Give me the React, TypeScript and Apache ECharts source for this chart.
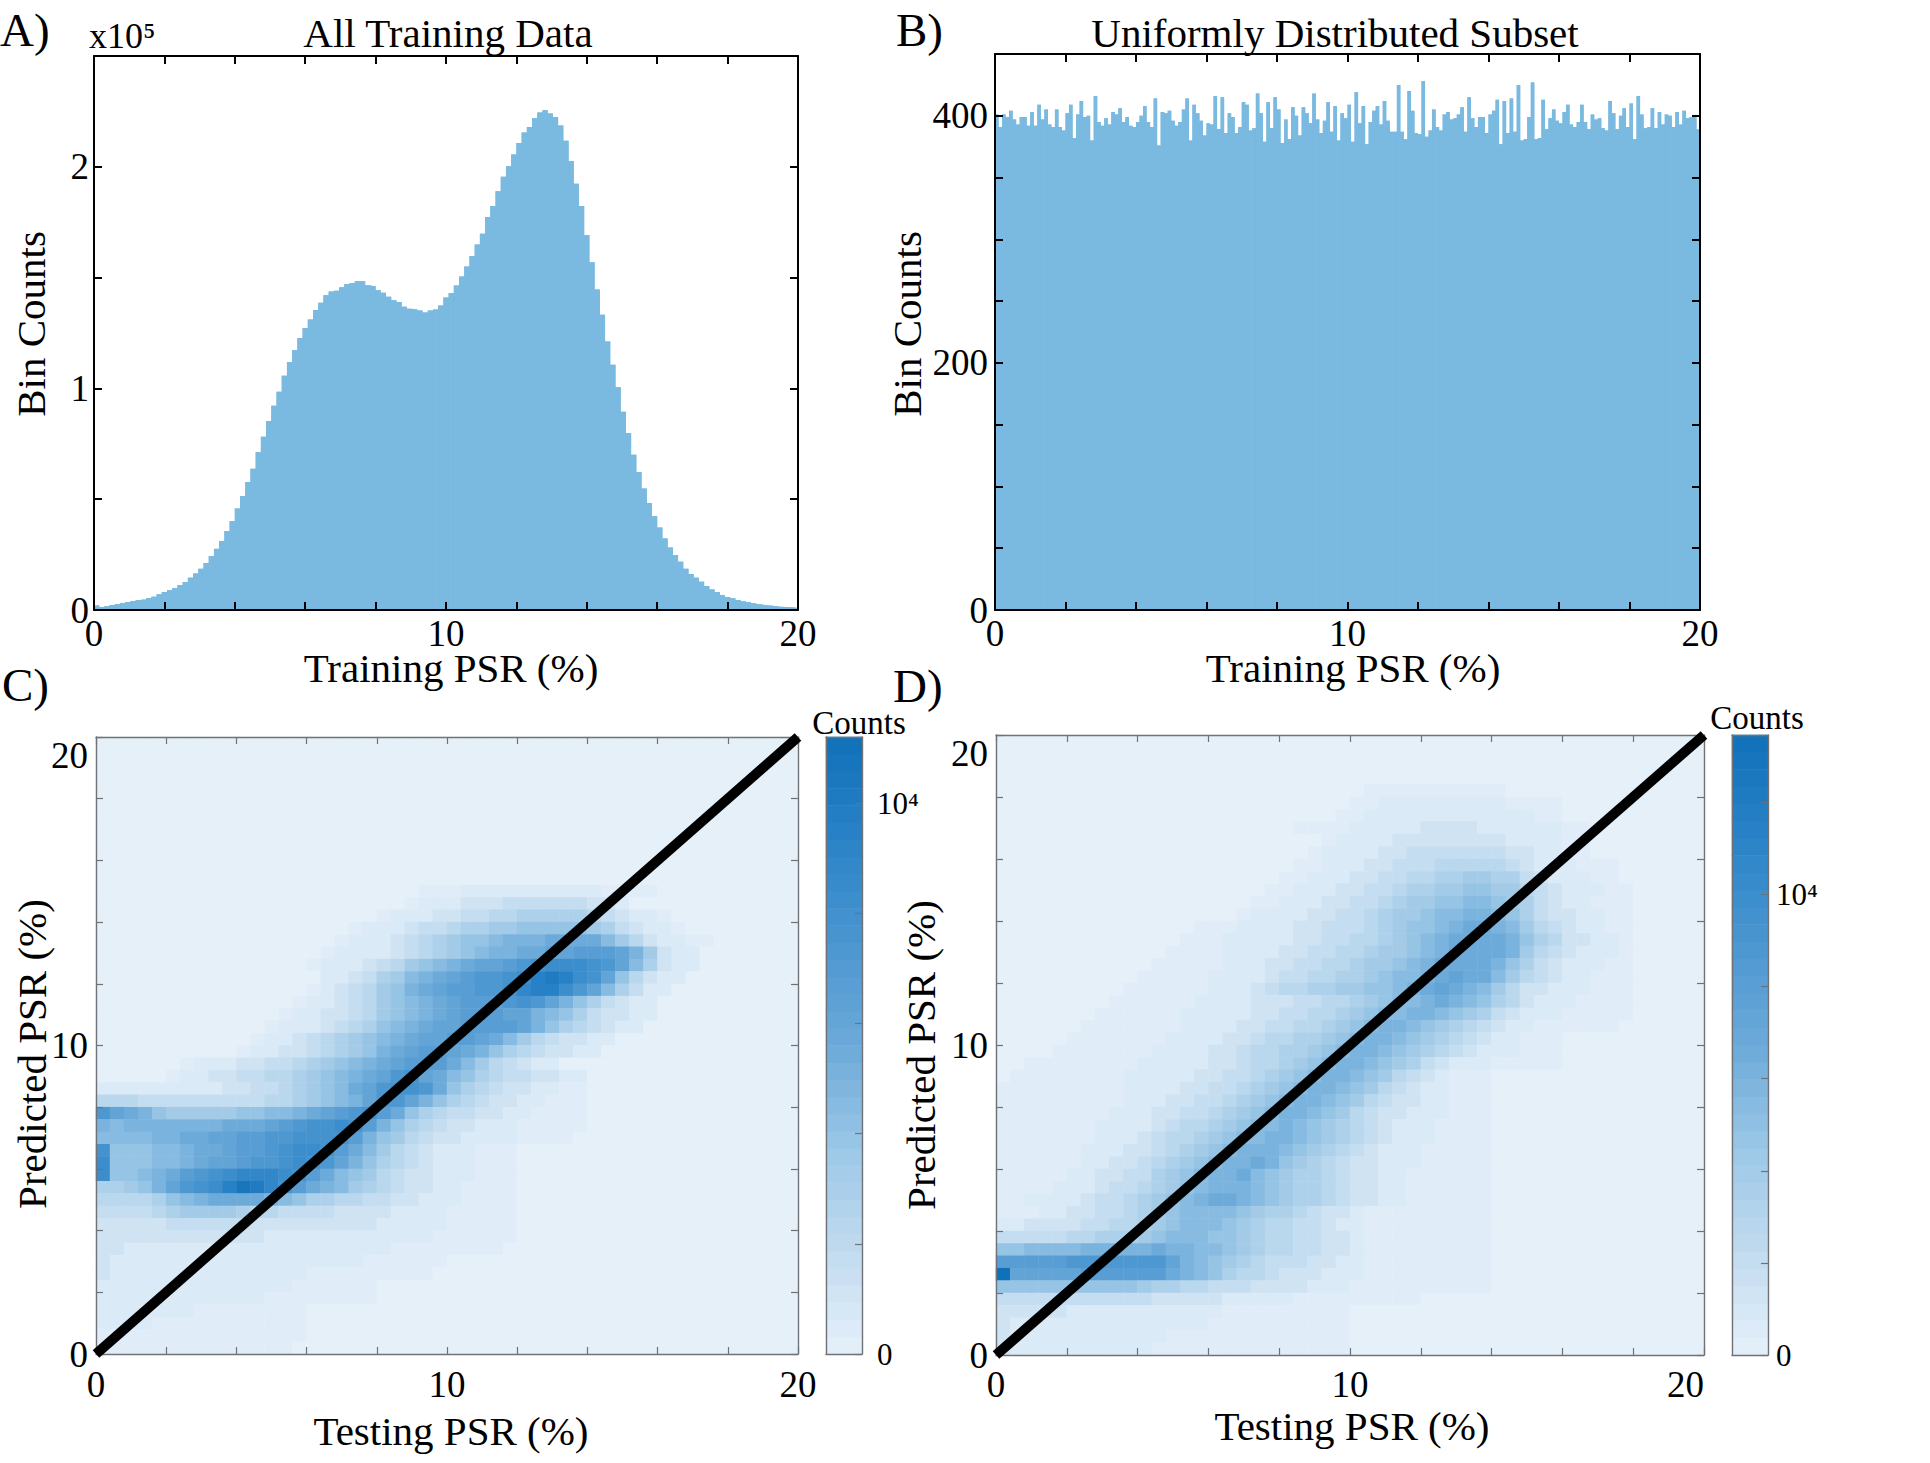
import React, { useEffect, useRef } from "react";
import * as echarts from "echarts";

// Panel A: bin counts in thousands, 135 bins over 0-20 %
const allTrainingCounts = [
  2.1,1.4,1.8,2.3,2.7,3.2,3.6,4.1,4.5,4.7,5.4,6.0,7.1,8.1,9.0,9.9,11.3,12.6,14.6,16.5,18.6,21.2,24.3,27.6,31.1,35.6,40.1,45.8,51.4,57.8,
  63.7,71.2,78.2,85.3,92.2,98.5,105.7,111.9,117.3,122.8,127.3,131.1,135.4,138.7,142.0,143.7,144.1,145.6,147.1,147.6,148.4,148.4,146.5,146.2,144.3,143.2,141.4,139.8,139.0,136.8,
  135.9,135.7,135.1,134.2,135.1,135.6,137.4,141.0,143.1,146.4,150.5,155.0,159.8,164.9,169.8,177.3,182.3,189.0,195.5,200.3,205.6,210.7,215.5,218.0,221.9,224.5,225.5,224.0,222.5,218.6,
  211.7,202.6,192.3,182.3,169.2,156.9,144.6,133.2,121.2,110.7,100.5,89.5,79.9,70.1,62.3,54.8,48.3,42.3,37.2,32.3,28.2,24.8,21.8,18.6,16.2,14.6,12.8,10.8,9.3,8.1,
  6.8,5.9,5.3,4.5,3.9,3.5,3.0,2.6,2.3,2.0,1.8,1.5,1.4,1.2,1.1,
];

// Panel B: 200 bins over 0-20 %
const uniformCounts = [
  401,391,401,399,404,397,393,399,399,392,403,392,409,397,405,393,391,405,391,388,402,409,382,401,412,399,400,380,416,395,392,398,393,403,401,406,395,399,392,391,395,400,408,395,391,414,376,403,402,404,396,392,395,405,414,380,409,402,396,384,394,393,416,389,415,386,402,
  399,386,391,411,409,388,390,418,402,379,411,390,415,405,378,397,381,407,400,384,407,402,394,418,397,386,396,411,387,408,380,402,398,409,379,419,394,408,377,395,404,408,393,412,396,387,387,425,387,381,420,404,386,385,428,383,388,405,391,388,401,403,397,398,401,407,387,415,
  398,391,399,399,386,401,404,413,377,412,386,414,387,425,380,381,399,427,381,382,413,389,398,405,396,394,403,409,393,391,395,409,395,389,401,397,398,390,388,412,402,389,400,406,391,410,381,416,401,390,391,406,390,403,393,401,400,391,403,393,404,398,399,399,389,
];

// Panel C: density levels (0-9, a-k = 0..20 of the colour scale, "." = half a level), 50x50 cells, top row first
const panelCRows = [
  "0","0","0","0","0","0","0","0","0","0","0","0",
  "00000 00000 00000 00000 000.. .1111 11111 1....",
  "00000 00000 00000 00000 00.11 12223 33333 22100",
  "00000 00000 00000 00000 .1112 23344 55555 43211 .0000",
  "00000 00000 00000 000.1 11233 45566 77777 65321 1.000",
  "00000 00000 00000 00.11 12345 67789 99aaa a8642 11..0",
  "00000 00000 00000 0.111 12345 67899 aabbc ccb96 21100",
  "00000 00000 00000 .1112 34678 9abbc defff edb85 21100",
  "00000 00000 00000 01123 5689a bcdde fhihf eb742 11000",
  "00000 00000 00000 .1234 679ab ccdde ghhfd b8531 10000",
  "00000 00000 0000. 11234 6789a bcccd edb97 53211 00000",
  "00000 00000 000.1 12234 6789a bcccb b9875 32211 00000",
  "00000 00000 00.11 12345 789ab bcccc b9754 32110 00000",
  "00000 00000 0.112 34567 89abb ccba8 64322 11000 00000",
  "00000 00000 .1122 34567 9abcc ba975 43221 10000 00000",
  "00000 0.111 22334 56789 abccc a8643 21100 00000",
  "00000 .1122 33445 6789a bdeba 87543 32211 00000",
  "11111 11112 23345 678ab deeda 75432 211..",
  "44433 33333 33445 6789b ddb97 54322 11...",
  "dba97 66666 77889 abcde ca754 33221 1....",
  "98999 9999a aabcd eefec 97543 22111 .....",
  "88889 9aabb ccdde eeec9 76432 21111 ....",
  "e7778 89aab ccdef feca8 64321 11...",
  "f7778 89abb cddef edb97 54321 11...",
  "f7789 acdef gggfe ca876 43221 11...",
  "55679 bdefh jigec a9865 43221 1....",
  "44445 789aa aa987 55443 32211 1....",
  "33334 56666 54433 33222 21111 .....",
  "22222 33333 32222 22222 11111 .....",
  "22222 22222 22111 11111 1111. .....",
  "22111 11111 11111 11111 1.... ....",
  "21111 11111 11111 1111. .....",
  "21111 11111 11111 ..... ....",
  "11111 11111 1111. .....",
  "11111 11111 11... .....",
  "11111 11... .....",
  "1111. ..... .....",
  "..... ..... .....",
  "..... ..... ....",
];

// Panel D: same coding
const panelDRows = [
  "0","0","0","0",
  "00000 00000 00000 00000 00000 0.... ..... .",
  "00000 00000 00000 00000 00000 ..111 11111 1....",
  "00000 00000 00000 00000 0000. .1111 11111 111..",
  "00000 00000 00000 00000 0.... 11111 22221 11111 ..",
  "00000 00000 00000 00000 000.1 11122 22222 21111 ..",
  "00000 00000 00000 00000 00.11 11223 33333 32211 ..",
  "00000 00000 00000 00000 0..11 12233 34444 43211 1...",
  "00000 00000 00000 00000 ..111 22334 45566 55321 11..",
  "00000 00000 00000 0000. .1112 23345 56677 66432 111..",
  "00000 00000 00000 000.. 11122 33456 67788 76532 11...",
  "00000 00000 00000 00.11 11223 34566 78899 87532 211..",
  "00000 00000 0000. ..111 12233 34567 789aa 98643 211..",
  "00000 00000 000.. .1111 12233 44567 89aaa a9754 2211.",
  "00000 00000 00... .1111 22334 45667 89aaa a9643 2111.",
  "00000 00000 0.... .1112 23344 56678 9aaaa 97532 111..",
  "00000 00000 ..... 11112 33445 56788 9abaa 86432 11...",
  "00000 0000. ..... 11123 44556 67789 aba98 64221 11...",
  "00000 000.. ....1 11122 23344 56788 9a987 54211 1....",
  "00000 00... ...11 11122 33445 67889 98765 32111 .....",
  "00000 0.... ...11 11223 34456 78998 76543 211.. ....",
  "00000 ..... ..111 12234 45567 89987 65432 11...",
  "0000. ..... .1111 22344 55678 99876 54321 11...",
  "00... ..... 11111 22344 56789 98765 32111 .....",
  "0.... ....1 11112 23345 67899 87643 21...",
  "..... ....1 11122 33456 78998 76432 11...",
  "..... ....1 11223 34567 89987 64322 11...",
  "..... ...11 12233 45678 99876 43221 11...",
  "..... ..111 12344 56788 98765 43211 1....",
  "..... ..111 23445 67889 98765 43211 1....",
  "..... .1112 23456 78999 87654 32111 .....",
  "..... .1122 34567 899a9 76543 22111 .....",
  "..... 11223 35678 99a87 65543 2211. .....",
  "....1 11233 45678 99987 65543 2211. .....",
  "..111 12334 56789 aa987 65543 2211. .....",
  "...11 22334 56788 88765 54322 1.... .....",
  "11222 23344 56788 87654 43321 1.... .....",
  "33333 44555 67888 77654 43322 1.... .....",
  "77888 89999 9a998 87654 43322 1.... .....",
  "ccccc ddddd ddb98 76543 33221 1.... .....",
  "kbbbb bcccc cca98 75443 22211 1.... .....",
  "77777 77777 65544 33322 22111 ..... .....",
  "33333 33333 32222 21111 1.... .....",
  "22222 11111 11111 1.... .....",
  "21111 11111 11111 ..... .....",
  "21111 11111 11... ..... .....",
  "21111 11111 1.... ..... .....",
];

const diagonal = [[0, 0], [20, 20]];
const panelCMax = 11200;
const panelDMax = 13460;
const colorbarSteps = 36;
const colorStops = ["#e5f0f9", "#c1dbef", "#9bc7e6", "#6caad9", "#4b96d0", "#2a83c7", "#1070b9"];
const barColor = "#7ab9e0";
const FONT = "Liberation Serif";

function cellsFromRows(rows: string[], max: number) {
  const cells: number[][] = [];
  rows.forEach((raw, r) => {
    const row = raw.replace(/ /g, "").padEnd(50, "0");
    for (let c = 0; c < 50; c++) {
      const ch = row[c];
      const level = ch === "." ? 0.5 : parseInt(ch, 21);
      cells.push([c, rows.length - 1 - r, (level / 20) * max]);
    }
  });
  return cells;
}

const range = (n: number) => Array.from({ length: n }, (_, i) => String(i));

function buildOption() {
  const xAxis: any[] = [];
  const yAxis: any[] = [];
  const grid: any[] = [];

  function frame(g: any, f: any) {
    const gridIndex = grid.length;
    grid.push({ ...g, containLabel: false });
    const line = { show: true, onZero: false, lineStyle: { color: f.color, width: f.lineWidth } };
    const tick = (show: boolean) => ({
      show, inside: true, length: f.tickLen, lineStyle: { color: f.color, width: f.tickWidth },
    });
    const label = (extra: any) => ({
      fontFamily: FONT, color: "#000", fontSize: f.fontSize || 37, ...extra,
    });
    const xBase = {
      type: "value", gridIndex, min: 0, max: f.xMax, interval: f.xInterval,
      axisLine: line, splitLine: { show: false }, z: 10, silent: true,
    };
    const yBase = {
      type: "value", gridIndex, min: 0, max: f.yMax, interval: f.yInterval,
      axisLine: line, splitLine: { show: false }, z: 10, silent: true,
    };
    const xBottom = xAxis.length;
    xAxis.push({
      ...xBase, position: "bottom", axisTick: tick(f.xTicks),
      axisLabel: f.xLabel ? label({ formatter: f.xLabel, margin: f.xMargin, alignMaxLabel: f.xAlignMax }) : { show: false },
    });
    xAxis.push({ ...xBase, position: "top", axisTick: tick(f.xTicks), axisLabel: { show: false } });
    const xCat = xAxis.length;
    xAxis.push({ type: "category", gridIndex, data: range(f.xBins), show: false, boundaryGap: true });
    const yLeft = yAxis.length;
    yAxis.push({
      ...yBase, position: "left", axisTick: tick(f.yTicks && !f.labelRight),
      axisLabel: f.yLabel && !f.labelRight
        ? label({ formatter: f.yLabel, margin: f.yMargin, verticalAlignMaxLabel: f.yVMax })
        : { show: false },
    });
    yAxis.push({
      ...yBase, position: "right", axisTick: tick(f.yTicks),
      axisLabel: f.labelRight
        ? label({ formatter: f.yLabel, margin: f.yMargin, align: "left" })
        : { show: false },
    });
    const yCat = yAxis.length;
    if (f.yBins) {
      yAxis.push({ type: "category", gridIndex, data: range(f.yBins), show: false, boundaryGap: true });
    }
    return { xBottom, xCat, yLeft, yCat };
  }

  const labelTens = (v: number) => (v % 10 === 0 ? String(v) : "");
  const dark = { color: "#000", lineWidth: 2, tickWidth: 2, tickLen: 8 };
  const gray = { color: "#6f7378", lineWidth: 1.4, tickWidth: 1.2, tickLen: 7 };

  const a = frame({ left: 94, top: 56, width: 704, height: 554 }, {
    ...dark, xMax: 20, xInterval: 2, yMax: 250, yInterval: 50, xTicks: true, yTicks: true,
    xLabel: labelTens, xMargin: 5, yMargin: 5, xBins: allTrainingCounts.length,
    yLabel: (v: number) => (v % 100 === 0 ? String(v / 100) : ""),
  });
  const b = frame({ left: 995, top: 54, width: 705, height: 556 }, {
    ...dark, xMax: 20, xInterval: 2, yMax: 450, yInterval: 50, xTicks: true, yTicks: true,
    xLabel: labelTens, xMargin: 5, yMargin: 7, xBins: uniformCounts.length,
    yLabel: (v: number) => (v % 200 === 0 ? String(v) : ""),
  });
  const c = frame({ left: 96, top: 737, width: 702, height: 617 }, {
    ...gray, xMax: 20, xInterval: 2, yMax: 20, yInterval: 2, xTicks: true, yTicks: true,
    xLabel: labelTens, xMargin: 12, yMargin: 8, xBins: 50, yBins: 50, yLabel: labelTens, yVMax: "top",
  });
  const cBar = frame({ left: 826, top: 737, width: 36, height: 617 }, {
    ...gray, xMax: 1, xInterval: 1, yMax: panelCMax, yInterval: 2000, xTicks: false, yTicks: true,
    xBins: 1, yBins: colorbarSteps, labelRight: true, yMargin: 15, fontSize: 31,
    yLabel: (v: number) => (v === 10000 ? "10⁴" : v === 0 ? "0" : ""),
  });
  const d = frame({ left: 996, top: 735, width: 708, height: 620 }, {
    ...gray, xMax: 20, xInterval: 2, yMax: 20, yInterval: 2, xTicks: true, yTicks: true,
    xLabel: labelTens, xMargin: 11, yMargin: 8, xBins: 50, yBins: 50, yLabel: labelTens,
    yVMax: "top", xAlignMax: "right",
  });
  const dBar = frame({ left: 1732, top: 735, width: 36, height: 620 }, {
    ...gray, xMax: 1, xInterval: 1, yMax: panelDMax, yInterval: 2000, xTicks: false, yTicks: true,
    xBins: 1, yBins: colorbarSteps, labelRight: true, yMargin: 8, fontSize: 31,
    yLabel: (v: number) => (v === 10000 ? "10⁴" : v === 0 ? "0" : ""),
  });

  const barSeries = (p: any, data: number[]) => ({
    type: "bar", xAxisIndex: p.xCat, yAxisIndex: p.yLeft, data, barWidth: "100%", barGap: 0,
    itemStyle: { color: barColor }, silent: true, z: 2,
  });
  // stepped area under the bars, so that no hairline seams show between neighbouring bars
  const barUnderlay = (p: any, data: number[]) => ({
    type: "line", xAxisIndex: p.xCat, yAxisIndex: p.yLeft, data, step: "middle", showSymbol: false,
    lineStyle: { width: 0 }, areaStyle: { color: barColor, opacity: 1 }, silent: true, z: 1,
  });
  const heat = (p: any, data: number[][]) => ({
    type: "heatmap", xAxisIndex: p.xCat, yAxisIndex: p.yCat, data, silent: true, z: 2,
    progressive: 0, emphasis: { disabled: true }, itemStyle: { borderWidth: 0 },
  });
  const diag = (p: any) => ({
    type: "line", xAxisIndex: p.xBottom, yAxisIndex: p.yLeft, data: diagonal, showSymbol: false,
    clip: false, silent: true, z: 20, lineStyle: { color: "#000", width: 10, cap: "butt" },
  });
  const barCells = (max: number) =>
    Array.from({ length: colorbarSteps }, (_, i) => [0, i, ((i + 0.5) / colorbarSteps) * max]);

  const series = [
    barSeries(a, allTrainingCounts),
    barSeries(b, uniformCounts),
    heat(c, cellsFromRows(panelCRows, panelCMax)),
    diag(c),
    heat(cBar, barCells(panelCMax)),
    heat(d, cellsFromRows(panelDRows, panelDMax)),
    diag(d),
    heat(dBar, barCells(panelDMax)),
    barUnderlay(a, allTrainingCounts),
    barUnderlay(b, uniformCounts),
  ];

  const text = (t: string, x: number, y: number, size: number, extra: any = {}) => ({
    type: "text", x, y, rotation: extra.rotation || 0, silent: true, z: 30,
    style: {
      text: t, fontFamily: FONT, fontSize: size, fill: "#000",
      align: extra.align || "center", verticalAlign: "middle",
    },
  });
  const up = { rotation: Math.PI / 2 };
  const graphic = [
    text("A)", 0, 30, 47, { align: "left" }),
    text("B)", 896, 30, 47, { align: "left" }),
    text("C)", 2, 685, 47, { align: "left" }),
    text("D)", 893, 686, 47, { align: "left" }),
    text("All Training Data", 448, 33, 41),
    text("Uniformly Distributed Subset", 1335, 33, 41),
    text("x10⁵", 89, 36, 36, { align: "left" }),
    text("Training PSR (%)", 451, 668, 41),
    text("Training PSR (%)", 1353, 668, 41),
    text("Bin Counts", 31, 324, 41, up),
    text("Bin Counts", 907, 324, 41, up),
    text("Testing PSR (%)", 451, 1431, 41),
    text("Testing PSR (%)", 1352, 1426, 41),
    text("Predicted PSR (%)", 32, 1054, 41, up),
    text("Predicted PSR (%)", 921, 1055, 41, up),
    text("Counts", 859, 723, 33),
    text("Counts", 1757, 718, 33),
  ];

  return {
    animation: false,
    backgroundColor: "#fff",
    grid, xAxis, yAxis, series, graphic,
    visualMap: [
      { show: false, min: 0, max: panelCMax, dimension: 2, seriesIndex: [2, 4], inRange: { color: colorStops } },
      { show: false, min: 0, max: panelDMax, dimension: 2, seriesIndex: [5, 7], inRange: { color: colorStops } },
    ],
  };
}

export default function App() {
  const ref = useRef<HTMLDivElement>(null);
  useEffect(() => {
    if (!ref.current) return;
    const chart = echarts.init(ref.current, undefined, { renderer: "svg" });
    chart.setOption(buildOption() as any);
    return () => chart.dispose();
  }, []);
  return <div ref={ref} style={{ position: "fixed", left: 0, top: 0, width: 1930, height: 1463 }} />;
}
